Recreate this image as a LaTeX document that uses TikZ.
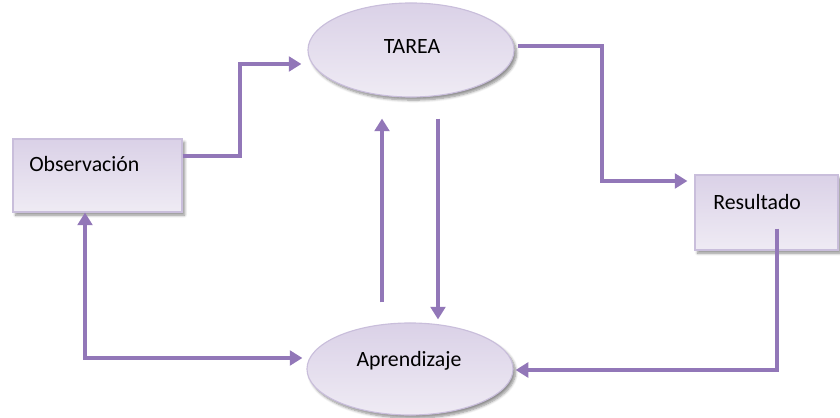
\documentclass[tikz,border=0pt]{standalone}
\usepackage{fontspec}
\setmainfont{Carlito}
\usetikzlibrary{arrows.meta,calc,shapes.geometric,shadows.blur}
\definecolor{flow}{HTML}{9277B8}
\definecolor{boxedge}{HTML}{C9BEDB}
\definecolor{boxtop}{HTML}{DAD1E7}
\definecolor{boxbot}{HTML}{EFEBF4}
\tikzset{
  shape3d/.style={draw=boxedge, line width=0.8pt, top color=boxtop, bottom color=boxbot,
    blur shadow={shadow xshift=1.8pt, shadow yshift=-2.2pt, shadow blur steps=6, shadow opacity=45}},
  box/.style={shape3d, rectangle, inner sep=0pt},
  oval/.style={shape3d, ellipse, inner sep=0pt},
  lbl/.style={font=\fontsize{15.5}{18}\selectfont, inner sep=0pt, text=black},
  flowline/.style={draw=flow, line width=2.9pt, line join=miter,
    -{Triangle[length=9pt,width=10.5pt]}},
  flowboth/.style={draw=flow, line width=2.9pt, line join=miter,
    {Triangle[length=9pt,width=10.5pt]}-{Triangle[length=9pt,width=10.5pt]}},
}
\begin{document}
\begin{tikzpicture}[x=0.025cm,y=-0.025cm]
  \useasboundingbox (0,0) rectangle (840,418);

  % shapes
  \node[oval, minimum width=5.15cm, minimum height=2.35cm] (tarea) at (411,50) {};
  \node[oval, minimum width=5.15cm, minimum height=2.3cm] (apr) at (410,369) {};
  \node[box, minimum width=4.225cm, minimum height=1.825cm] (obs) at (97.5,175.5) {};
  \node[box, minimum width=3.575cm, minimum height=1.875cm] (res) at (766.5,212.5) {};

  % labels
  \node[lbl] (tareaT) at (412,47) {TAREA};
  \node[lbl] (aprT) at (409,361) {Aprendizaje};
  \node[lbl, anchor=west] (obsT) at (29,164) {Observación};
  \node[lbl, anchor=west] (resT) at (713,202) {Resultado};

  % connectors
  \draw[flowline] ($(obs.east)+(0,-19.5)$) -| (240,64) -- ($(tarea.west)+(-6,14)$);
  \draw[flowline] ($(tarea.east)+(3,-4)$) -| (602,181) -- ($(res.west)+(-7,-31.5)$);
  \draw[flowline] ($(res.south)+(10.5,-22)$) |- ($(apr.east)+(2,1)$);
  \draw[flowboth] ($(obs.south)+(-12.5,0)$) |- ($(apr.west)+(-4,-11)$);
  \draw[flowline] ($(apr.north)+(-28,-20)$) -- ($(tarea.south)+(-29,21)$);
  \draw[flowline] ($(tarea.south)+(27,21)$) -- ($(apr.north)+(28,-3)$);
\end{tikzpicture}
\end{document}
